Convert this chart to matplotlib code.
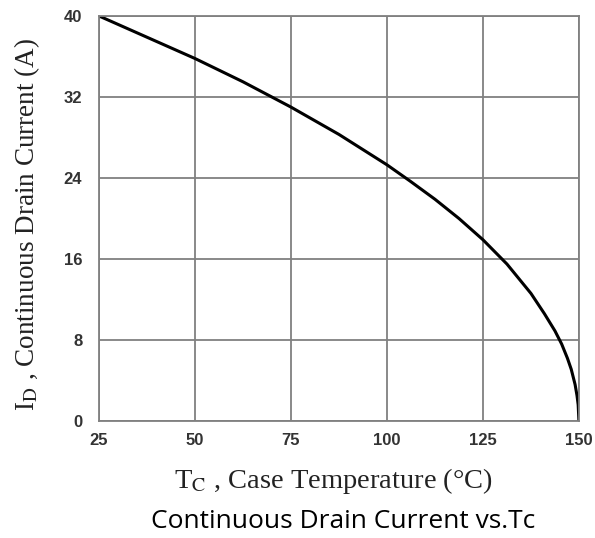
import matplotlib.pyplot as plt

# Datos
tc = [25, 37.5, 50, 62.5, 75, 87.5, 100, 106, 112.5, 118.75, 125, 131.25,
      137.5, 141, 143.75, 145.5, 147, 148, 149, 149.5, 149.8, 150]
id_a = [40, 37.9, 35.8, 33.5, 31.0, 28.3, 25.3, 23.7, 21.9, 20.0, 17.9,
        15.5, 12.6, 10.6, 8.9, 7.6, 6.2, 5.1, 3.6, 2.5, 1.6, 0]
xticks = [25, 50, 75, 100, 125, 150]
yticks = [0, 8, 16, 24, 32, 40]

plt.rcParams['mathtext.fontset'] = 'stix'

fig = plt.figure(figsize=(5.95, 5.38), dpi=100)
ax = fig.add_axes([0.1664, 0.2175, 0.8066, 0.7528])

ax.plot(tc, id_a, color='black', linewidth=2.2, solid_capstyle='butt')

ax.set_xlim(25, 150)
ax.set_ylim(0, 40)
ax.set_xticks(xticks)
ax.set_yticks(yticks)
ax.grid(True, color='#808080', linewidth=1.3)
for s in ax.spines.values():
    s.set_color('#808080')
    s.set_linewidth(1.3)
ax.tick_params(length=0, labelsize=12, labelcolor='#333333')
ax.tick_params(axis='x', pad=9)
ax.tick_params(axis='y', pad=12)
for lbl in ax.get_xticklabels() + ax.get_yticklabels():
    lbl.set_fontweight('bold')
    lbl.set_family('Liberation Sans')

fig.text(0.561, 0.106, r'T$_{\mathrm{C}}$ , Case Temperature (°C)',
         ha='center', va='center', fontsize=20.5, color='#222222',
         family=['Liberation Serif', 'DejaVu Serif'])
fig.text(0.046, 0.5825, r'I$_{\mathrm{D}}$ , Continuous Drain Current (A)',
         ha='center', va='center', rotation=90, fontsize=19.5, color='#222222',
         family=['Liberation Serif', 'DejaVu Serif'])
fig.text(0.576, 0.031, 'Continuous Drain Current vs.Tc',
         ha='center', va='center', fontsize=19, color='black',
         family='Open Sans')

fig.savefig('out.png', dpi=100)
